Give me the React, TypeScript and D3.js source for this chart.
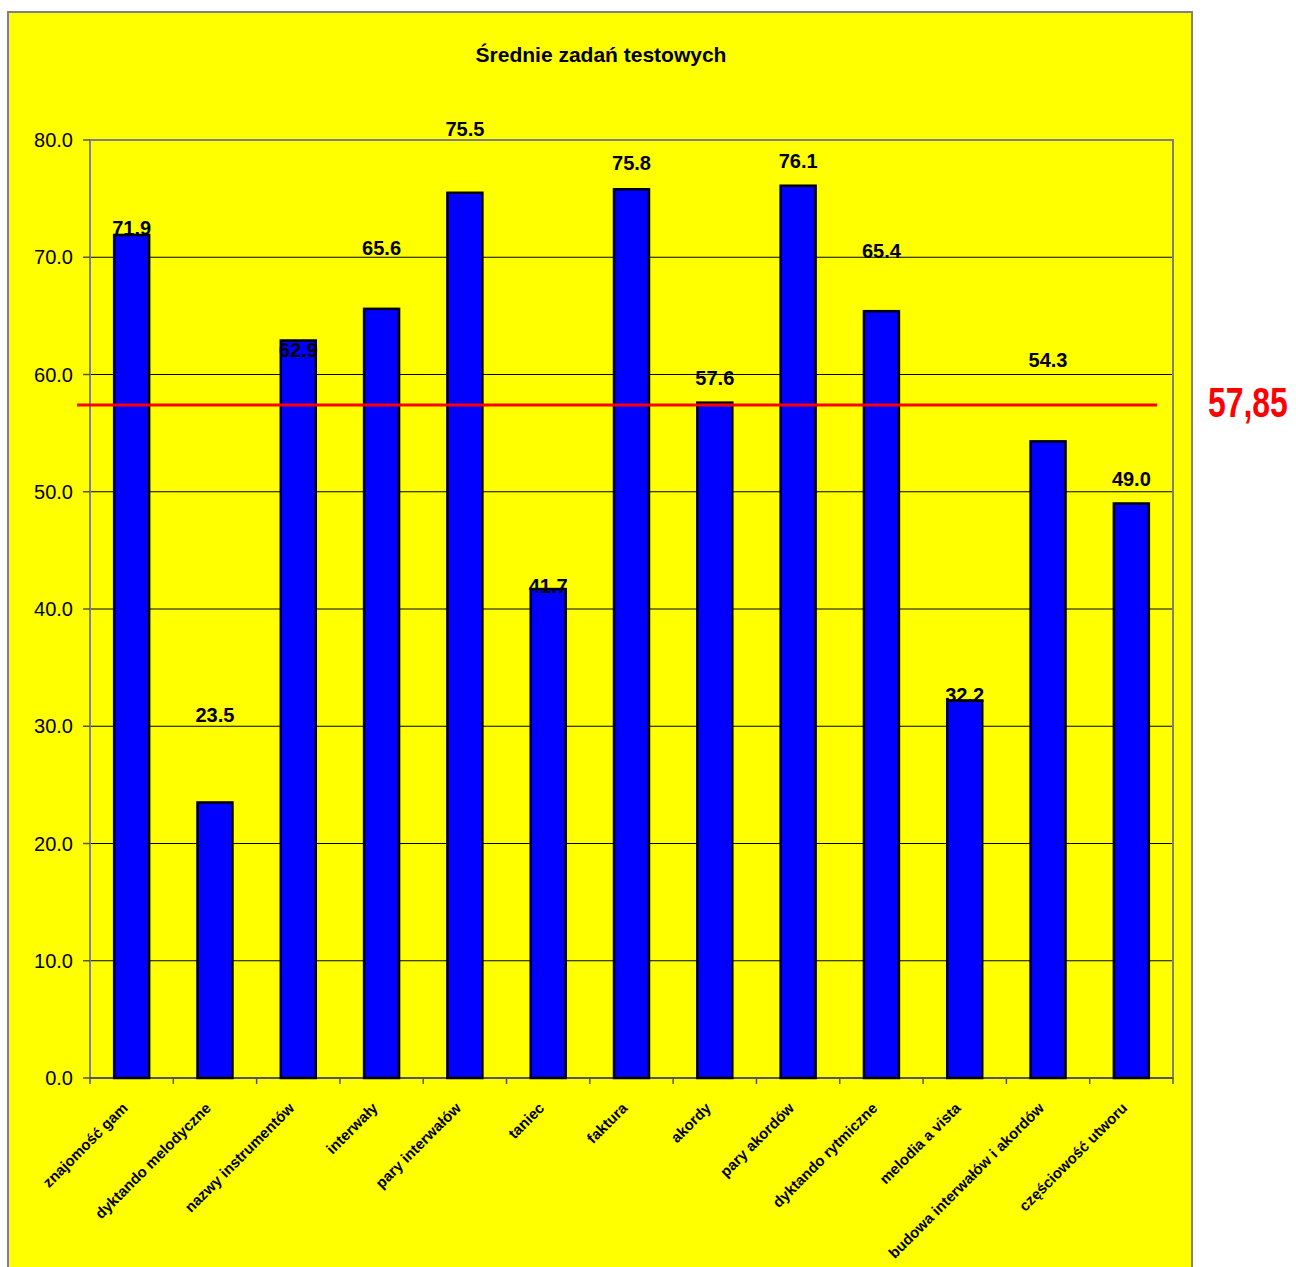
import { useEffect, useRef } from 'react';
import * as d3 from 'd3';

// Data
const categories = [
  'znajomość gam',
  'dyktando melodyczne',
  'nazwy instrumentów',
  'interwały',
  'pary interwałów',
  'taniec',
  'faktura',
  'akordy',
  'pary akordów',
  'dyktando rytmiczne',
  'melodia a vista',
  'budowa interwałów i akordów',
  'częściowość utworu',
];
const averages = [71.9, 23.5, 62.9, 65.6, 75.5, 41.7, 75.8, 57.6, 76.1, 65.4, 32.2, 54.3, 49.0];
const yTicks = [0, 10, 20, 30, 40, 50, 60, 70, 80];
const meanLineValue = 57.4; // where the red line sits in the picture
const meanLabel = '57,85';
const title = 'Średnie zadań testowych';

// manual label baselines (value units), as placed in the original
const labelBaseline = [71.9, 30.4, 61.5, 70.2, 80.3, 41.4, 77.4, 59.1, 77.6, 69.9, 32.1, 60.6, 50.5];

const FONT = '"Liberation Sans", Arial, sans-serif';

export default function App() {
  const ref = useRef<SVGSVGElement>(null);

  useEffect(() => {
    if (!ref.current) return;
    const W = 1296;
    const H = 1267;
    const L = 90, R = 1173, T = 140, B = 1078;

    const svg = d3.select(ref.current);
    svg.selectAll('*').remove();
    svg.attr('width', W).attr('height', H).attr('viewBox', `0 0 ${W} ${H}`);

    const x = d3.scaleBand<string>().domain(categories).range([L, R]);
    const y = d3.scaleLinear().domain([0, 80]).range([B, T]);
    const barW = x.bandwidth() * 0.42;

    // chart area
    svg.append('rect')
      .attr('x', 8).attr('y', 12)
      .attr('width', 1184).attr('height', 1300)
      .attr('fill', '#ffff00')
      .attr('stroke', '#808080')
      .attr('stroke-width', 2);

    svg.append('text')
      .attr('x', 601).attr('y', 62)
      .attr('text-anchor', 'middle')
      .style('font-family', FONT)
      .style('font-weight', 'bold')
      .style('font-size', '21px')
      .text(title);

    // gridlines
    svg.append('g')
      .selectAll('line')
      .data(yTicks.filter(t => t > 0 && t < 80))
      .enter()
      .append('line')
      .attr('x1', L).attr('x2', R)
      .attr('y1', d => y(d)).attr('y2', d => y(d))
      .attr('stroke', '#000')
      .attr('stroke-width', 1);

    // plot border
    svg.append('rect')
      .attr('x', L).attr('y', T)
      .attr('width', R - L).attr('height', B - T)
      .attr('fill', 'none')
      .attr('stroke', '#808080')
      .attr('stroke-width', 2);

    // y ticks + labels
    const yg = svg.append('g');
    yg.selectAll('line')
      .data(yTicks)
      .enter()
      .append('line')
      .attr('x1', L - 7).attr('x2', L)
      .attr('y1', d => y(d)).attr('y2', d => y(d))
      .attr('stroke', '#555')
      .attr('stroke-width', 1.5);
    yg.selectAll('text')
      .data(yTicks)
      .enter()
      .append('text')
      .attr('x', 73)
      .attr('y', d => y(d))
      .attr('dy', '0.35em')
      .attr('text-anchor', 'end')
      .style('font-family', FONT)
      .style('font-size', '20px')
      .text(d => d.toFixed(1));

    // bottom axis ticks at band edges
    const edges = categories.map(c => x(c)!).concat([R]);
    svg.append('g')
      .selectAll('line')
      .data(edges)
      .enter()
      .append('line')
      .attr('x1', d => d).attr('x2', d => d)
      .attr('y1', B).attr('y2', B + 6)
      .attr('stroke', '#555')
      .attr('stroke-width', 1.5);
    svg.append('line')
      .attr('x1', L).attr('x2', R)
      .attr('y1', B).attr('y2', B)
      .attr('stroke', '#555')
      .attr('stroke-width', 2);

    // bars
    svg.append('g')
      .selectAll('rect')
      .data(averages)
      .enter()
      .append('rect')
      .attr('x', (_, i) => x(categories[i])! + (x.bandwidth() - barW) / 2)
      .attr('y', d => y(d))
      .attr('width', barW)
      .attr('height', d => B - y(d))
      .attr('fill', '#0000ff')
      .attr('stroke', '#000')
      .attr('stroke-width', 2.5);

    // value labels
    svg.append('g')
      .selectAll('text')
      .data(averages)
      .enter()
      .append('text')
      .attr('x', (_, i) => x(categories[i])! + x.bandwidth() / 2)
      .attr('y', (_, i) => y(labelBaseline[i]))
      .attr('text-anchor', 'middle')
      .style('font-family', FONT)
      .style('font-weight', 'bold')
      .style('font-size', '20px')
      .text(d => d.toFixed(1));

    // category labels
    svg.append('g')
      .selectAll('text')
      .data(categories)
      .enter()
      .append('text')
      .attr('transform', d => `translate(${x(d)! + x.bandwidth() / 2 - 3},${B + 31}) rotate(-45)`)
      .attr('text-anchor', 'end')
      .style('font-family', FONT)
      .style('font-weight', 'bold')
      .style('font-size', '15px')
      .text(d => d);

    // mean line
    svg.append('line')
      .attr('x1', 77).attr('x2', 1157)
      .attr('y1', y(meanLineValue)).attr('y2', y(meanLineValue))
      .attr('stroke', '#ff0000')
      .attr('stroke-width', 3);

    // condensed red label (narrowed with a scale)
    svg.append('text')
      .attr('transform', 'translate(1208,417) scale(0.76,1)')
      .style('font-family', FONT)
      .style('font-weight', 'bold')
      .style('font-size', '42px')
      .attr('fill', '#ff0000')
      .text(meanLabel);
  }, []);

  return <svg ref={ref} style={{ position: 'absolute', left: 0, top: 0, display: 'block' }} />;
}
